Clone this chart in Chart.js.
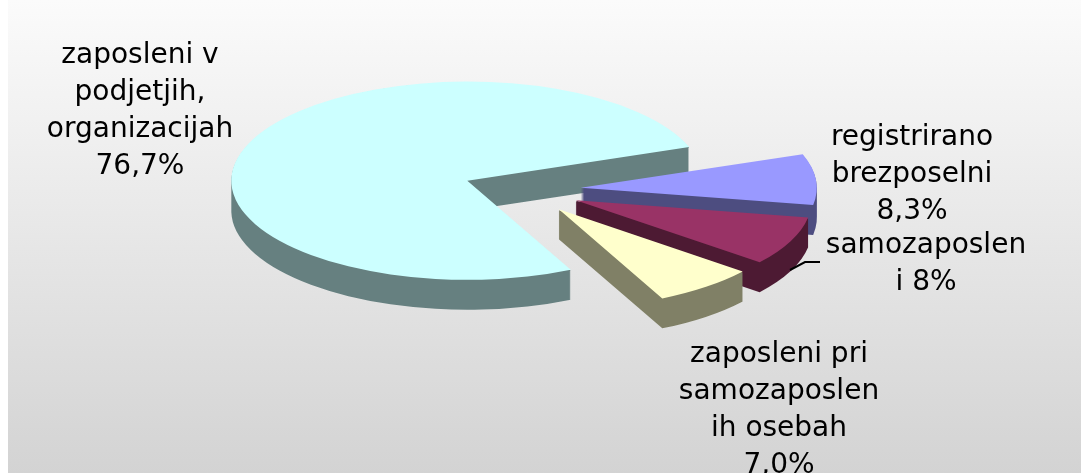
<!DOCTYPE html>
<html>
<head>
<meta charset="utf-8">
<script src="https://cdn.jsdelivr.net/npm/chart.js@4.4.1/dist/chart.umd.min.js"></script>
<style>
    html, body { margin: 0; padding: 0; background: #fff; }
    #grafico { display: block; }
</style>
</head>
<body>
<canvas id="grafico" width="1081" height="473"></canvas>
<script>
// Podatki (deleži v %)
const kategorije = ['zaposleni v podjetjih, organizacijah', 'registrirano brezposelni', 'samozaposleni', 'zaposleni pri samozaposlenih osebah'];
const delezi = [76.7, 8.3, 8.0, 7.0];
// Napisi tako kot so prelomljeni na sliki
const napisi = [
    ['zaposleni v', 'podjetjih,', 'organizacijah', '76,7%'],
    ['registrirano', 'brezposelni', '8,3%'],
    ['samozaposlen', 'i 8%'],
    ['zaposleni pri', 'samozaposlen', 'ih osebah', '7,0%']
];
const barveZgoraj = ['#ccffff', '#9999ff', '#993366', '#ffffcc'];
const barveStranic = ['#668080', '#4d4d80', '#4d1a33', '#808066'];

// Izgled 3D pite
const NAGIB = 0.42;     // sploščenost elipse
const GLOBINA = 30;     // debelina pite v px
const RAZMIK = 59;      // razmik izvlečenih kosov
// Položaj napisov: sredina x, osnovna črta prve vrstice
const polozajiNapisov = [[140, 63], [912, 145], [926, 253], [779, 362]];
const VISINA_VRSTICE = 37;

// stisne platno navpično okoli središča pite
function stisni(ctx, cy) {
    ctx.translate(0, cy);
    ctx.scale(1, NAGIB);
    ctx.translate(0, -cy);
}

const pita3d = {
    id: 'pita3d',
    beforeDraw(chart) {
        const ctx = chart.ctx;
        const g = ctx.createLinearGradient(0, 0, 0, chart.height);
        g.addColorStop(0, '#fbfbfb');
        g.addColorStop(1, '#d3d3d3');
        ctx.save();
        ctx.fillStyle = '#ffffff';
        ctx.fillRect(0, 0, chart.width, chart.height);
        ctx.fillStyle = g;
        ctx.fillRect(8, 0, chart.width - 8, chart.height);
        ctx.restore();
    },
    beforeDatasetsDraw(chart) {
        const ctx = chart.ctx;
        const loki = chart.getDatasetMeta(0).data;

        // najprej stranice: ena pot iz več zamaknjenih kopij, en sam fill
        loki.forEach((lok, i) => {
            const { x, y, startAngle, endAngle, outerRadius } = lok.getProps(['x', 'y', 'startAngle', 'endAngle', 'outerRadius'], true);
            const sred = (startAngle + endAngle) / 2;
            const cx = x + Math.cos(sred) * RAZMIK, cy = y + Math.sin(sred) * RAZMIK;
            ctx.save();
            stisni(ctx, y);
            ctx.fillStyle = barveStranic[i];
            ctx.beginPath();
            for (let d = 1; d <= GLOBINA; d += 0.1) {
                const dy = d / NAGIB;
                ctx.moveTo(cx, cy + dy);
                ctx.arc(cx, cy + dy, outerRadius, startAngle, endAngle);
                ctx.closePath();
            }
            ctx.fill('nonzero');
            ctx.restore();
        });

        // potem zgornje ploskve, nariše jih Chart.js
        loki.forEach((lok) => {
            const { y, startAngle, endAngle } = lok.getProps(['y', 'startAngle', 'endAngle'], true);
            const sred = (startAngle + endAngle) / 2;
            ctx.save();
            stisni(ctx, y);
            ctx.translate(Math.cos(sred) * RAZMIK, Math.sin(sred) * RAZMIK);
            lok.draw(ctx);
            ctx.restore();
        });
        return false;
    },
    afterDraw(chart) {
        const ctx = chart.ctx;
        ctx.save();
        // vodilna črta za samozaposlene
        ctx.strokeStyle = '#000';
        ctx.lineWidth = 2;
        ctx.beginPath();
        ctx.moveTo(790, 270);
        ctx.lineTo(805, 262);
        ctx.lineTo(820, 262);
        ctx.stroke();

        ctx.fillStyle = '#000';
        ctx.font = '28px "DejaVu Sans"';
        ctx.textAlign = 'center';
        ctx.textBaseline = 'alphabetic';
        napisi.forEach((vrstice, i) => {
            const [px, py] = polozajiNapisov[i];
            vrstice.forEach((t, j) => ctx.fillText(t, px, py + j * VISINA_VRSTICE));
        });
        ctx.restore();
    }
};

new Chart(document.getElementById('grafico'), {
    type: 'pie',
    data: {
        labels: kategorije,
        datasets: [{
            data: delezi,
            backgroundColor: barveZgoraj,
            borderWidth: 0
        }]
    },
    options: {
        responsive: false,
        devicePixelRatio: 1,
        animation: false,
        rotation: 154,
        radius: 236,
        layout: { padding: { left: 0, right: 37, top: 0, bottom: 93 } },
        plugins: {
            legend: { display: false },
            tooltip: { enabled: false }
        }
    },
    plugins: [pita3d]
});
</script>
</body>
</html>
